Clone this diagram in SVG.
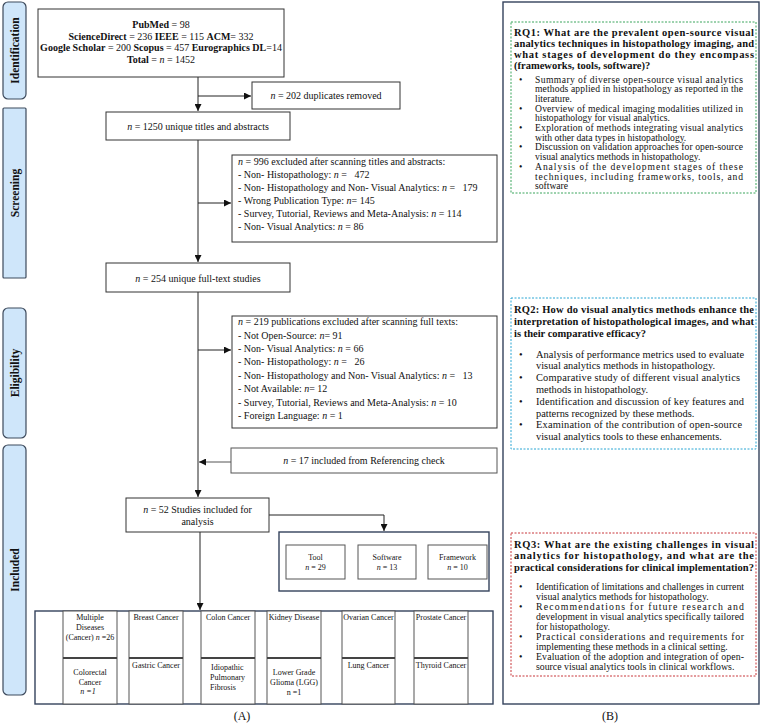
<svg xmlns="http://www.w3.org/2000/svg" width="762" height="725" viewBox="0 0 762 725">
<style>
text{font-family:"Liberation Serif","Times New Roman",serif;fill:#111;}
.t{font-size:10px;}
.s{font-size:8px;}
.b{font-weight:bold;}
.i{font-style:italic;}
.box{fill:#fff;stroke:#333;stroke-width:1;}
.cell{fill:#fff;stroke:#555;stroke-width:1;}
.frame{fill:none;stroke:#34425c;stroke-width:1.4;}
.pill{fill:#cfe6fa;stroke:#3d4a5c;stroke-width:1.2;}
.lbl{font-size:11.5px;font-weight:bold;text-anchor:middle;}
.c{text-anchor:middle;}
.line{fill:none;stroke:#222;stroke-width:1;}
.rh{font-size:10.5px;font-weight:bold;}
.rb1{font-size:9.6px;}
.rb{font-size:10.4px;}
.rb3{font-size:9.8px;}
.div{stroke:#444;stroke-width:2;}
</style>
<defs>
<marker id="ah" viewBox="0 0 8 8" refX="8" refY="4" markerWidth="7" markerHeight="7" markerUnits="userSpaceOnUse" orient="auto">
<path d="M0,0 L8,4 L0,8 z" fill="#111"/>
</marker>
</defs>

<!-- stage labels -->
<g id="stage-identification"><rect class="pill" x="3" y="2" width="23" height="97" rx="5"/><text class="lbl" transform="translate(18.5,50.5) rotate(-90)">Identification</text></g>
<g id="stage-screening"><rect class="pill" x="3" y="108" width="23" height="170" rx="1"/><text class="lbl" transform="translate(18.5,193) rotate(-90)">Screening</text></g>
<g id="stage-eligibility"><rect class="pill" x="3" y="308" width="23" height="130" rx="5"/><text class="lbl" transform="translate(18.5,373) rotate(-90)">Eligibility</text></g>
<g id="stage-included"><rect class="pill" x="3" y="445" width="23" height="250" rx="5"/><text class="lbl" transform="translate(18.5,570) rotate(-90)">Included</text></g>

<!-- connectors -->
<g id="connectors">
<path class="line" d="M198,77 V111" marker-end="url(#ah)"/>
<path class="line" d="M198,96 H251" marker-end="url(#ah)"/>
<path class="line" d="M198,140 V262" marker-end="url(#ah)"/>
<path class="line" d="M198,203 H231" marker-end="url(#ah)"/>
<path class="line" d="M198,292 V497" marker-end="url(#ah)"/>
<path class="line" d="M198,350 H231" marker-end="url(#ah)"/>
<path class="line" d="M231,462 H199" marker-end="url(#ah)" style="stroke:#555"/>
<path class="line" d="M269,515 H384 V531" marker-end="url(#ah)"/>
<path class="line" d="M200,532 V610" marker-end="url(#ah)"/>
</g>

<g id="identification">
<rect class="box" x="38" y="9" width="246" height="68"/>
<text class="t c" x="161" y="27.5"><tspan class="b">PubMed</tspan> = 98</text>
<text class="t c" x="161" y="39.5"><tspan class="b">ScienceDirect</tspan> = 236 <tspan class="b">IEEE</tspan> = 115 <tspan class="b">ACM</tspan>= 332</text>
<text class="t c" x="161" y="51"><tspan class="b">Google Scholar</tspan> = 200 <tspan class="b">Scopus</tspan> = 457 <tspan class="b">Eurographics DL</tspan>=14</text>
<text class="t c" x="161" y="62.5"><tspan class="b">Total</tspan> = <tspan class="i">n</tspan> = 1452</text>
</g>

<g id="duplicates">
<rect class="box" x="252" y="82" width="148" height="27"/>
<text class="t c" x="326" y="99"><tspan class="i">n</tspan> = 202 duplicates removed</text>
</g>

<g id="unique-titles">
<rect class="box" x="106" y="112" width="184" height="28"/>
<text class="t c" x="198" y="129.5"><tspan class="i">n</tspan> = 1250 unique titles and abstracts</text>
</g>

<g id="excluded-screening">
<rect class="box" x="232" y="155" width="265" height="87"/>
<text class="t" x="238" y="165.2"><tspan class="i">n</tspan> = 996 excluded after scanning titles and abstracts:</text>
<text class="t" x="238" y="178.1" style="white-space:pre">- Non- Histopathology: <tspan class="i">n</tspan> =   472</text>
<text class="t" x="238" y="191" style="white-space:pre">- Non- Histopathology and Non- Visual Analytics: <tspan class="i">n</tspan> =   179</text>
<text class="t" x="238" y="203.9">- Wrong Publication Type: <tspan class="i">n</tspan>= 145</text>
<text class="t" x="238" y="216.8">- Survey, Tutorial, Reviews and Meta-Analysis: <tspan class="i">n</tspan> = 114</text>
<text class="t" x="238" y="229.7">- Non- Visual Analytics: <tspan class="i">n</tspan> = 86</text>
</g>

<g id="full-text">
<rect class="box" x="106" y="263" width="184" height="29"/>
<text class="t c" x="198" y="282"><tspan class="i">n</tspan> = 254 unique full-text studies</text>
</g>

<g id="excluded-eligibility">
<rect class="box" x="232" y="316" width="265" height="112"/>
<text class="t" x="238" y="325.2"><tspan class="i">n</tspan> = 219 publications excluded after scanning full texts:</text>
<text class="t" x="238" y="338.6">- Not Open-Source: <tspan class="i">n</tspan>= 91</text>
<text class="t" x="238" y="352">- Non- Visual Analytics: <tspan class="i">n</tspan> = 66</text>
<text class="t" x="238" y="365.4" style="white-space:pre">- Non- Histopathology: <tspan class="i">n</tspan> =   26</text>
<text class="t" x="238" y="378.8" style="white-space:pre">- Non- Histopathology and Non- Visual Analytics: <tspan class="i">n</tspan> =   13</text>
<text class="t" x="238" y="392.2">- Not Available: <tspan class="i">n</tspan>= 12</text>
<text class="t" x="238" y="405.6">- Survey, Tutorial, Reviews and Meta-Analysis: <tspan class="i">n</tspan> = 10</text>
<text class="t" x="238" y="419">- Foreign Language: <tspan class="i">n</tspan> = 1</text>
</g>

<g id="referencing">
<rect class="box" x="231" y="448" width="266" height="25" style="stroke:#555"/>
<text class="t c" x="364" y="464"><tspan class="i">n</tspan> = 17 included from Referencing check</text>
</g>

<g id="included-studies">
<rect class="box" x="126" y="498" width="143" height="34"/>
<text class="t c" x="197.5" y="512.5"><tspan class="i">n</tspan> = 52 Studies included for</text>
<text class="t c" x="197.5" y="524.5">analysis</text>
</g>

<g id="types">
<rect class="frame" x="279" y="532" width="210" height="59"/>
<g id="tool"><rect class="cell" x="286" y="545" width="59" height="34"/><text class="s c" x="315.5" y="560">Tool</text><text class="s c" x="315.5" y="570"><tspan class="i">n</tspan> = 29</text></g>
<g id="software"><rect class="cell" x="358" y="545" width="58" height="34"/><text class="s c" x="387" y="560">Software</text><text class="s c" x="387" y="570"><tspan class="i">n</tspan> = 13</text></g>
<g id="framework"><rect class="cell" x="428" y="545" width="59" height="34"/><text class="s c" x="457.5" y="560">Framework</text><text class="s c" x="457.5" y="570"><tspan class="i">n</tspan> = 10</text></g>
</g>

<g id="diseases">
<rect class="frame" x="35" y="611" width="458" height="93"/>
<rect class="cell" x="63" y="611" width="54" height="93"/>
<rect class="cell" x="129" y="611" width="54" height="93"/>
<rect class="cell" x="201" y="611" width="54" height="93"/>
<rect class="cell" x="267" y="611" width="54" height="93"/>
<rect class="cell" x="342" y="611" width="53" height="93"/>
<rect class="cell" x="414" y="611" width="54" height="93"/>
<path class="div" d="M63,658 H117 M129,658 H183 M201,658 H255 M267,658 H321 M342,658 H395 M414,658 H468"/>
<text class="s c" x="90" y="620">Multiple</text>
<text class="s c" x="90" y="630">Diseases</text>
<text class="s c" x="90" y="640">(Cancer) <tspan class="i">n</tspan> =26</text>
<text class="s c" x="90" y="675">Colorectal</text>
<text class="s c" x="90" y="684.5">Cancer</text>
<text class="s c i" x="88" y="694">n =1</text>
<text class="s c" x="156" y="620">Breast Cancer</text>
<text class="s c" x="156" y="668">Gastric Cancer</text>
<text class="s c" x="228" y="620">Colon Cancer</text>
<text class="s" x="211" y="670">Idiopathic</text>
<text class="s" x="210" y="680">Pulmonary</text>
<text class="s" x="210" y="690">Fibrosis</text>
<text class="s c" x="294" y="620">Kidney Disease</text>
<text class="s c" x="294" y="675">Lower Grade</text>
<text class="s c" x="294" y="685">Glioma (LGG)</text>
<text class="s c" x="294" y="695">n =1</text>
<text class="s c" x="368.5" y="620">Ovarian Cancer</text>
<text class="s c" x="368.5" y="668">Lung Cancer</text>
<text class="s c" x="441" y="620">Prostate Cancer</text>
<text class="s c" x="441" y="668">Thyroid Cancer</text>
</g>

<text x="242" y="720" class="c" style="font-size:12px">(A)</text>

<!-- right panel -->
<rect class="frame" x="503" y="2" width="256" height="702"/>

<g id="rq1">
<rect x="511" y="22" width="245" height="171" fill="#fff" stroke="#3aa55d" stroke-width="1" stroke-dasharray="2,1.5"/>
<text class="rh" x="514" y="35.5" textLength="240" lengthAdjust="spacing">RQ1: What are the prevalent open-source visual</text>
<text class="rh" x="514" y="46.5" textLength="240" lengthAdjust="spacing">analytics techniques in histopathology imaging, and</text>
<text class="rh" x="514" y="57.5" textLength="240" lengthAdjust="spacing">what stages of development do they encompass</text>
<text class="rh" x="514" y="68.5">(frameworks, tools, software)?</text>
<text class="rb1" x="519" y="82.5">•</text>
<text class="rb1" x="535" y="82.5" textLength="208" lengthAdjust="spacing">Summary of diverse open-source visual analytics</text>
<text class="rb1" x="535" y="92.2" textLength="208" lengthAdjust="spacing">methods applied in histopathology as reported in the</text>
<text class="rb1" x="535" y="101.9">literature.</text>
<text class="rb1" x="519" y="111.6">•</text>
<text class="rb1" x="535" y="111.6" textLength="208" lengthAdjust="spacing">Overview of medical imaging modalities utilized in</text>
<text class="rb1" x="535" y="121.3">histopathology for visual analytics.</text>
<text class="rb1" x="519" y="131">•</text>
<text class="rb1" x="535" y="131" textLength="208" lengthAdjust="spacing">Exploration of methods integrating visual analytics</text>
<text class="rb1" x="535" y="140.7">with other data types in histopathology.</text>
<text class="rb1" x="519" y="150.4">•</text>
<text class="rb1" x="535" y="150.4" textLength="208" lengthAdjust="spacing">Discussion on validation approaches for open-source</text>
<text class="rb1" x="535" y="160.1">visual analytics methods in histopathology.</text>
<text class="rb1" x="519" y="169.8">•</text>
<text class="rb1" x="535" y="169.8" textLength="208" lengthAdjust="spacing">Analysis of the development stages of these</text>
<text class="rb1" x="535" y="179.5" textLength="208" lengthAdjust="spacing">techniques, including frameworks, tools, and</text>
<text class="rb1" x="535" y="189.2">software</text>
</g>

<g id="rq2">
<rect x="511" y="298" width="245" height="151" fill="#fff" stroke="#2ba6d4" stroke-width="1" stroke-dasharray="2,1.5"/>
<text class="rh" x="514" y="312.5" textLength="240" lengthAdjust="spacing">RQ2: How do visual analytics methods enhance the</text>
<text class="rh" x="514" y="324.5" textLength="240" lengthAdjust="spacing">interpretation of histopathological images, and what</text>
<text class="rh" x="514" y="336.5">is their comparative efficacy?</text>
<text class="rb" x="519" y="357.5">•</text>
<text class="rb" x="536" y="357.5" textLength="208" lengthAdjust="spacing">Analysis of performance metrics used to evaluate</text>
<text class="rb" x="536" y="369.3">visual analytics methods in histopathology.</text>
<text class="rb" x="519" y="381.1">•</text>
<text class="rb" x="536" y="381.1" textLength="204" lengthAdjust="spacing">Comparative study of different visual analytics</text>
<text class="rb" x="536" y="392.9">methods in histopathology.</text>
<text class="rb" x="519" y="404.7">•</text>
<text class="rb" x="536" y="404.7" textLength="208" lengthAdjust="spacing">Identification and discussion of key features and</text>
<text class="rb" x="536" y="416.5">patterns recognized by these methods.</text>
<text class="rb" x="519" y="428.3">•</text>
<text class="rb" x="536" y="428.3" textLength="206" lengthAdjust="spacing">Examination of the contribution of open-source</text>
<text class="rb" x="536" y="440.1">visual analytics tools to these enhancements.</text>
</g>

<g id="rq3">
<rect x="511" y="533" width="245" height="143" fill="#fff" stroke="#c8373a" stroke-width="1" stroke-dasharray="2,1.5"/>
<text class="rh" x="514" y="547.5" textLength="240" lengthAdjust="spacing">RQ3: What are the existing challenges in visual</text>
<text class="rh" x="514" y="559" textLength="240" lengthAdjust="spacing">analytics for histopathology, and what are the</text>
<text class="rh" x="514" y="570.5" textLength="240" lengthAdjust="spacing">practical considerations for clinical implementation?</text>
<text class="rb3" x="519" y="590.3">•</text>
<text class="rb3" x="536" y="590.3" textLength="208" lengthAdjust="spacing">Identification of limitations and challenges in current</text>
<text class="rb3" x="536" y="600.3">visual analytics methods for histopathology.</text>
<text class="rb3" x="519" y="610.3">•</text>
<text class="rb3" x="536" y="610.3" textLength="208" lengthAdjust="spacing">Recommendations for future research and</text>
<text class="rb3" x="536" y="620.3" textLength="208" lengthAdjust="spacing">development in visual analytics specifically tailored</text>
<text class="rb3" x="536" y="630.3">for histopathology.</text>
<text class="rb3" x="519" y="640.3">•</text>
<text class="rb3" x="536" y="640.3" textLength="208" lengthAdjust="spacing">Practical considerations and requirements for</text>
<text class="rb3" x="536" y="650.3">implementing these methods in a clinical setting.</text>
<text class="rb3" x="519" y="660.3">•</text>
<text class="rb3" x="536" y="660.3" textLength="208" lengthAdjust="spacing">Evaluation of the adoption and integration of open-</text>
<text class="rb3" x="536" y="670.3">source visual analytics tools in clinical workflows.</text>
</g>

<text x="610" y="720" class="c" style="font-size:12px">(B)</text>
</svg>
